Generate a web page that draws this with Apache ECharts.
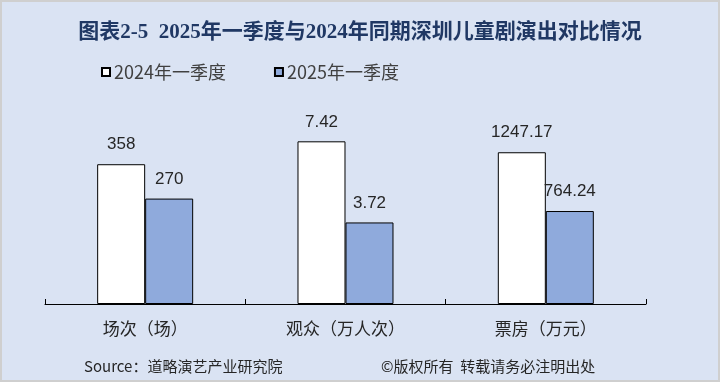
<!DOCTYPE html>
<html><head><meta charset="utf-8">
<script src="https://cdn.jsdelivr.net/npm/echarts@6/dist/echarts.min.js"></script>
<style>html,body{margin:0;padding:0;background:#dae3f3}#c{width:720px;height:382px}</style>
</head><body><div id="c"></div>
<script>
const titleText = '图表2-5  2025年一季度与2024年同期深圳儿童剧演出对比情况';
const categories = ['场次（场）', '观众（万人次）', '票房（万元）'];
const seriesNames = ['2024年一季度', '2025年一季度'];
const values2024 = [358, 7.42, 1247.17];
const values2025 = [270, 3.72, 764.24];
const axisMax = [502, 8.94, 1611];
const sourceText = 'Source：道略演艺产业研究院';
const copyrightText = '©版权所有  转载请务必注明出处';

const chart = echarts.init(document.getElementById('c'), null, {renderer: 'canvas'});
const gridW = 200.33;
const grids = [], xAxes = [], yAxes = [], series = [];
const colors = ['#ffffff', '#8faadc'];
const valueSets = [values2024, values2025];
for (let i = 0; i < categories.length; i++) {
  grids.push({left: 45 + i * gridW, width: gridW, top: 108, height: 196});
  xAxes.push({
    type: 'category', gridIndex: i, data: [categories[i]], boundaryGap: true,
    axisLine: {show: true, lineStyle: {color: '#000', width: 1}},
    axisTick: {show: true, inside: true, length: 5, alignWithLabel: false, lineStyle: {color: '#000', width: 1}},
    axisLabel: {color: '#262626', fontSize: 17, margin: 16, fontFamily: '"Noto Sans CJK SC", sans-serif'}
  });
  yAxes.push({type: 'value', gridIndex: i, min: 0, max: axisMax[i], show: false, splitLine: {show: false}});
  for (let s = 0; s < 2; s++) {
    series.push({
      type: 'bar', name: seriesNames[s], xAxisIndex: i, yAxisIndex: i,
      data: [valueSets[s][i]], barWidth: 48, barGap: '0%',
      itemStyle: {color: colors[s], borderColor: '#000', borderWidth: 1},
      label: {show: true, position: 'top', distance: 11, color: '#262626', fontSize: 17,
        fontFamily: '"Liberation Sans", Arial, sans-serif'},
      animation: false
    });
  }
}

chart.setOption({
  backgroundColor: '#dae3f3',
  animation: false,
  title: {
    text: titleText, left: 'center', top: 17,
    textStyle: {color: '#203864', fontSize: 21, fontWeight: 'bold',
      fontFamily: '"Liberation Serif", "Noto Sans CJK SC", serif'}
  },
  legend: {
    data: seriesNames, left: 101, top: 63, padding: 0, itemWidth: 8, itemHeight: 8, itemGap: 48,
    icon: 'rect',
    textStyle: {color: '#404040', fontSize: 18, padding: [0, 0, 0, -1],
      fontFamily: '"Noto Sans CJK SC", sans-serif'}
  },
  grid: grids, xAxis: xAxes, yAxis: yAxes, series: series,
  graphic: [
    {type: 'text', left: 84, top: 359, style: {text: sourceText, fill: '#262626', fontSize: 15,
      fontFamily: '"Noto Sans CJK SC", sans-serif'}},
    {type: 'text', left: 381, top: 359, style: {text: copyrightText, fill: '#262626', fontSize: 15,
      fontFamily: '"Noto Sans CJK SC", sans-serif'}},
    {type: 'rect', shape: {x: 1, y: 1, width: 718, height: 380}, silent: true,
      style: {fill: 'none', stroke: '#cfcfcf', lineWidth: 2}}
  ]
});
</script></body></html>
